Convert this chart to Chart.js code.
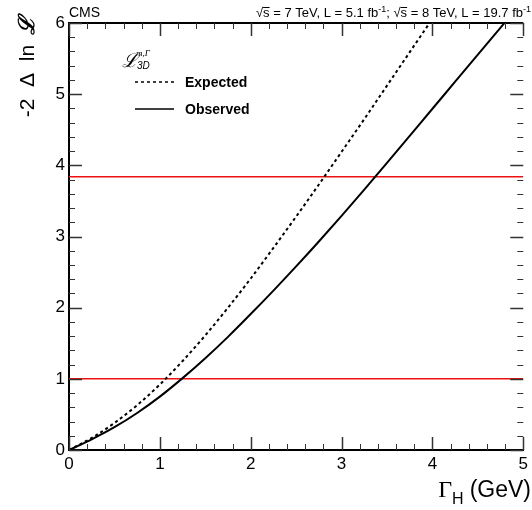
<!DOCTYPE html>
<html>
<head>
<meta charset="utf-8">
<script src="https://cdn.jsdelivr.net/npm/chart.js@4.4.0/dist/chart.umd.min.js"></script>
<style>
  html, body { margin: 0; padding: 0; background: #fff; }
  #wrap { position: relative; width: 532px; height: 510px; }
</style>
</head>
<body>
<div id="wrap"><canvas id="c"></canvas></div>
<script>
// Gamma_H scan points (GeV)
const expWidth = [0, 0.25, 0.5, 0.75, 1, 1.25, 1.5, 1.75, 2, 2.25, 2.5, 2.75, 3, 3.25, 3.5, 3.75, 4, 4.25];
const expected = [0, 0.17, 0.38, 0.63, 0.92, 1.25, 1.61, 2.0, 2.41, 2.84, 3.28, 3.73, 4.19, 4.65, 5.12, 5.59, 6.06, 6.54];
const obsWidth = [0, 0.25, 0.5, 0.75, 1, 1.25, 1.5, 1.75, 2, 2.25, 2.5, 2.75, 3, 3.25, 3.5, 3.75, 4, 4.25, 4.5, 4.75, 5];
const observed = [0, 0.15, 0.32, 0.52, 0.75, 1.01, 1.29, 1.59, 1.91, 2.24, 2.58, 2.93, 3.29, 3.66, 4.035, 4.415, 4.795, 5.175, 5.555, 5.935, 6.315];
// 68% and 95% CL lines
const clLevels = [1, 3.84];
const xRange = [0, 5];
const yRange = [0, 6];

const pts = (xs, ys) => xs.map((x, i) => ({ x, y: ys[i] }));

const SANS = '"Liberation Sans", Arial, Helvetica, sans-serif';

const drawRich = (ctx, x, y, parts, align) => {
  let w = 0;
  parts.forEach(p => { ctx.font = p.font; w += ctx.measureText(p.t).width + (p.gap || 0); });
  let cx = align === "right" ? x - w : x;
  ctx.textBaseline = "alphabetic";
  ctx.textAlign = "left";
  parts.forEach(p => {
    ctx.font = p.font;
    ctx.fillText(p.t, cx, y + (p.dy || 0));
    if (p.bar) {
      const bw = ctx.measureText(p.t).width;
      ctx.fillRect(cx, y - 10, bw, 1);
    }
    cx += ctx.measureText(p.t).width + (p.gap || 0);
  });
};

const framePlugin = {
  id: "frame",
  afterDatasetsDraw(chart) {
    const { ctx, chartArea: a, scales: { x, y } } = chart;
    ctx.save();
    ctx.strokeStyle = "#000";
    ctx.lineWidth = 2;
    ctx.beginPath();
    ctx.moveTo(a.left, a.top);
    ctx.lineTo(a.right, a.top);
    ctx.stroke();

    ctx.strokeStyle = "#333";
    for (let i = 0; i <= 25; i++) {
      const v = i / 5;
      const major = i % 5 === 0;
      const len = major ? 13 : 6;
      ctx.lineWidth = major ? 1.5 : 1;
      const px = Math.round(x.getPixelForValue(v)) + 0.5;
      ctx.beginPath();
      ctx.moveTo(px, a.bottom); ctx.lineTo(px, a.bottom - len);
      ctx.moveTo(px, a.top); ctx.lineTo(px, a.top + len);
      ctx.stroke();
    }
    for (let i = 0; i <= 30; i++) {
      const v = i / 5;
      const major = i % 5 === 0;
      const len = major ? 13 : 6;
      ctx.lineWidth = major ? 1.5 : 1;
      const py = Math.round(y.getPixelForValue(v)) + 0.5;
      ctx.beginPath();
      ctx.moveTo(a.left, py); ctx.lineTo(a.left + len, py);
      ctx.moveTo(a.right, py); ctx.lineTo(a.right - len, py);
      ctx.stroke();
    }
    ctx.restore();
  },
  afterDraw(chart) {
    const { ctx } = chart;
    ctx.save();
    ctx.fillStyle = "#000";

    // header
    drawRich(ctx, 69, 17, [{ t: "CMS", font: `14px ${SANS}` }]);
    const f = `13px ${SANS}`, fs = `9px ${SANS}`;
    drawRich(ctx, 531, 17, [
      { t: "√", font: f }, { t: "s", font: f, bar: true }, { t: " = 7 TeV, L = 5.1 fb", font: f },
      { t: "-1", font: fs, dy: -5 }, { t: "; ", font: f },
      { t: "√", font: f }, { t: "s", font: f, bar: true }, { t: " = 8 TeV, L = 19.7 fb", font: f },
      { t: "-1", font: fs, dy: -5 }
    ], "right");

    // y title, rotated
    ctx.save();
    ctx.translate(34, 0);
    ctx.rotate(-Math.PI / 2);
    ctx.textBaseline = "alphabetic";
    ctx.textAlign = "center";
    ctx.font = `21px ${SANS}`;
    ctx.fillText("-2", -108, 0);
    ctx.fillText("Δ", -80, 0);
    ctx.fillText("ln", -53, 0);
    ctx.font = `italic bold 22px "DejaVu Serif", serif`;
    ctx.fillText("ℒ", -26, 0);
    ctx.restore();

    // x title
    drawRich(ctx, 531, 497, [
      { t: "Γ", font: `24px "Liberation Serif", serif` },
      { t: "H", font: `16px ${SANS}`, dy: 7, gap: 6 },
      { t: "(GeV)", font: `23px ${SANS}` }
    ], "right");

    // legend
    ctx.font = `italic 19px "DejaVu Serif", serif`;
    ctx.fillText("ℒ", 122, 67);
    ctx.font = `italic 9px "Liberation Serif", serif`;
    ctx.fillText("m,Γ", 136, 56);
    ctx.font = `italic 10px ${SANS}`;
    ctx.fillText("3D", 137, 69);

    const ds = chart.data.datasets;
    [[0, 82, "Expected"], [1, 109, "Observed"]].forEach(([i, yy, label]) => {
      ctx.save();
      ctx.strokeStyle = ds[i].borderColor;
      ctx.lineWidth = 1.5;
      ctx.setLineDash(ds[i].borderDash || []);
      ctx.beginPath();
      ctx.moveTo(135, yy); ctx.lineTo(174, yy);
      ctx.stroke();
      ctx.restore();
      ctx.font = `bold 14px ${SANS}`;
      ctx.fillText(label, 185, yy + 5);
    });
    ctx.restore();
  }
};

new Chart(document.getElementById("c"), {
  type: "line",
  data: {
    datasets: [
      {
        label: "Expected",
        data: pts(expWidth, expected),
        borderColor: "#000",
        borderWidth: 2,
        borderDash: [3, 3],
        pointRadius: 0,
        cubicInterpolationMode: "monotone"
      },
      {
        label: "Observed",
        data: pts(obsWidth, observed),
        borderColor: "#000",
        borderWidth: 2,
        pointRadius: 0,
        cubicInterpolationMode: "monotone"
      },
      ...clLevels.map(lvl => ({
        label: `CL ${lvl}`,
        data: pts(xRange, [lvl, lvl]),
        borderColor: "#ee1111",
        borderWidth: 1.5,
        pointRadius: 0
      }))
    ]
  },
  options: {
    responsive: true,
    maintainAspectRatio: false,
    animation: false,
    devicePixelRatio: 1,
    layout: { padding: { top: 23, right: 3, left: 0, bottom: 0 } },
    plugins: { legend: { display: false }, tooltip: { enabled: false } },
    scales: {
      x: {
        type: "linear",
        min: xRange[0],
        max: xRange[1],
        afterFit: s => { s.height = 60; },
        grid: { display: false, drawTicks: false },
        border: { display: true, color: "#000", width: 2 },
        ticks: { stepSize: 1, color: "#000", padding: 4, maxRotation: 0, font: { family: SANS, size: 17 } }
      },
      y: {
        min: yRange[0],
        max: yRange[1],
        afterFit: s => { s.width = 69; },
        grid: { display: false, drawTicks: false },
        border: { display: true, color: "#000", width: 2 },
        ticks: { stepSize: 1, color: "#000", padding: 4, font: { family: SANS, size: 17 } }
      }
    }
  },
  plugins: [framePlugin]
});
</script>
</body>
</html>
